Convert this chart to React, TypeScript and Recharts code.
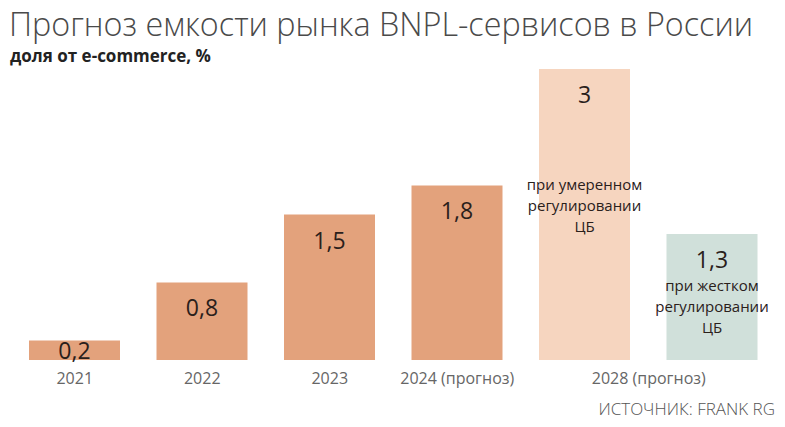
import React from 'react';
import { BarChart, Bar, XAxis, YAxis, Cell, LabelList } from 'recharts';

const categories = ['2021', '2022', '2023', '2024', '2028a', '2028b'];
const tickLabels = ['2021', '2022', '2023', '2024 (прогноз)', '2028 (прогноз)', ''];
const values = [0.2, 0.8, 1.5, 1.8, 3, 1.3];
const notes = ['', '', '', '', 'при умеренном|регулировании|ЦБ', 'при жестком|регулировании|ЦБ'];
const COLORS = ['#E3A27C', '#E3A27C', '#E3A27C', '#E3A27C', '#F6D5BF', '#D0E0DA'];

const data = categories.map((c, i) => ({ name: c, value: values[i], note: notes[i] }));

const FONT = '"Open Sans", "Noto Sans", sans-serif';

const Tick = (props: any) => {
  const { x, y, index } = props;
  const label = tickLabels[index];
  if (!label) return null;
  // the 2028 label sits under both 2028 bars
  const dx = index === 4 ? 64 : 0;
  return (
    <text x={x + dx} y={y + 16} textAnchor="middle" fontFamily={FONT} fontSize={16} fill="#666">
      {label}
    </text>
  );
};

const ValueLabel = (props: any) => {
  const { x, y, width, height, value } = props;
  const cy = height < 40 ? y + height / 2 : y + 25;
  return (
    <text x={x + width / 2} y={cy} textAnchor="middle" dominantBaseline="central"
      fontFamily={FONT} fontSize={23} fill="#2a201b">
      {String(value).replace('.', ',')}
    </text>
  );
};

const NoteLabel = (props: any) => {
  const { x, y, width, index } = props;
  const note = notes[index];
  if (!note) return null;
  const lines = note.split('|');
  const startY = index === 4 ? y + 115 : y + 51;
  return (
    <g>
      {lines.map((l: string, i: number) => (
        <text key={i} x={x + width / 2} y={startY + i * 20.8} textAnchor="middle" dominantBaseline="central"
          fontFamily={FONT} fontSize={15} fill="#2a201b">
          {l}
        </text>
      ))}
    </g>
  );
};

export default function App() {
  return (
    <div style={{ position: 'absolute', left: 0, top: 0, width: 785, height: 427, background: '#fff', fontFamily: FONT }}>
      <BarChart width={785} height={427} data={data} margin={{ top: 69, right: 9, bottom: 37, left: 11 }}>
        <XAxis dataKey="name" axisLine={false} tickLine={false} height={30} tick={<Tick />} interval={0} />
        <YAxis hide domain={[0, 3]} />
        <Bar dataKey="value" barSize={91} isAnimationActive={false}>
          {data.map((d, i) => (
            <Cell key={d.name} fill={COLORS[i]} />
          ))}
          <LabelList dataKey="value" content={<ValueLabel />} />
          <LabelList dataKey="note" content={<NoteLabel />} />
        </Bar>
      </BarChart>
      <div style={{ position: 'absolute', left: 9, top: 1, fontSize: 32.3, lineHeight: '44px', fontWeight: 300, color: '#4a4a4a', whiteSpace: 'nowrap' }}>
        Прогноз емкости рынка BNPL-сервисов в России
      </div>
      <div style={{ position: 'absolute', left: 10, top: 45, fontSize: 17, lineHeight: '22px', fontWeight: 700, color: '#222', whiteSpace: 'nowrap' }}>
        доля от e-commerce, %
      </div>
      <div style={{ position: 'absolute', right: 10, top: 398, fontSize: 17, lineHeight: '22px', fontWeight: 300, color: '#555', whiteSpace: 'nowrap' }}>
        ИСТОЧНИК: FRANK RG
      </div>
    </div>
  );
}
